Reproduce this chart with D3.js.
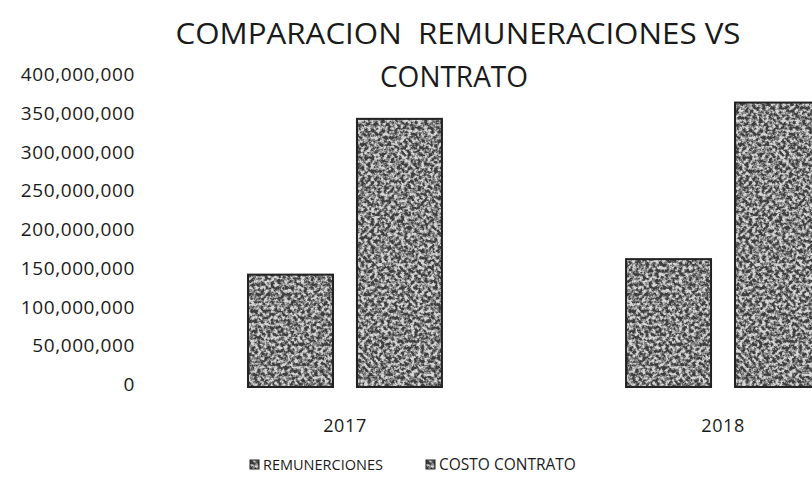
<!DOCTYPE html>
<html>
<head>
<meta charset="utf-8">
<script src="https://cdn.jsdelivr.net/npm/d3@7"></script>
<style>
  body { margin: 0; background: #fff; }
  svg { display: block; }
</style>
</head>
<body>
<svg id="chart" width="812" height="487"></svg>
<script>
const years = ['2017', '2018']
const seriesNames = ['REMUNERCIONES', 'COSTO CONTRATO']
const remuneraciones = [145000000, 165000000]
const costoContrato = [346000000, 367000000]
const yTicks = [0, 50000000, 100000000, 150000000, 200000000, 250000000, 300000000, 350000000, 400000000]
const titleLines = ['COMPARACION  REMUNERACIONES VS', 'CONTRATO']

const rows = years.map((y, i) => ({ year: y, values: [remuneraciones[i], costoContrato[i]] }))

const svg = d3.select('#chart')
const font = "'Open Sans', 'Noto Sans', sans-serif"
const ink = '#1a1a1a'

const dims = { left: 59, right: 1009, top: 77, bottom: 387 }

// grainy fill, like the photocopied bars
const defs = svg.append('defs')
const filt = defs.append('filter').attr('id', 'grain')
  .attr('x', 0).attr('y', 0).attr('width', 1).attr('height', 1)
  .attr('color-interpolation-filters', 'sRGB')
filt.append('feTurbulence')
  .attr('type', 'fractalNoise')
  .attr('baseFrequency', 0.3)
  .attr('numOctaves', 3)
  .attr('seed', 7)
  .attr('result', 'noise')
filt.append('feColorMatrix')
  .attr('in', 'noise')
  .attr('type', 'matrix')
  .attr('values', '3.3 0 0 0 -1.2  3.3 0 0 0 -1.2  3.3 0 0 0 -1.2  0 0 0 0 1')
  .attr('result', 'gray')
// soften: mix the speckle with the flat grey
filt.append('feComposite')
  .attr('in', 'gray').attr('in2', 'SourceGraphic')
  .attr('operator', 'arithmetic')
  .attr('k1', 0).attr('k2', 0.6).attr('k3', 0.4).attr('k4', 0)
  .attr('result', 'mix')
filt.append('feComposite')
  .attr('in', 'mix').attr('in2', 'SourceGraphic').attr('operator', 'in')

const x0 = d3.scaleBand()
  .domain(years)
  .range([dims.left, dims.right])
  .paddingInner(0.487)
  .paddingOuter(0.5)

const x1 = d3.scaleBand()
  .domain([0, 1])
  .range([0, x0.bandwidth()])
  .paddingInner(0.22)

const y = d3.scaleLinear()
  .domain([0, 400000000])
  .range([dims.bottom, dims.top])

// Title
svg.append('g').selectAll('text')
  .data(titleLines)
  .enter().append('text')
  .attr('x', (d, i) => i === 0 ? 458 : 454)
  .attr('y', (d, i) => 44 + i * 43)
  .attr('text-anchor', 'middle')
  .attr('font-family', font)
  .attr('font-size', 29)
  .attr('fill', ink)
  .attr('textLength', (d, i) => i === 0 ? 565 : 148)
  .attr('lengthAdjust', 'spacingAndGlyphs')
  .style('white-space', 'pre')
  .text(d => d)

// Y axis (labels only, no line)
const yAxis = d3.axisLeft(y)
  .tickValues(yTicks)
  .tickFormat(d3.format(','))
  .tickSize(0)
  .tickPadding(0)

const yg = svg.append('g')
  .attr('transform', 'translate(135, -3)')
  .call(yAxis)
yg.select('.domain').remove()
yg.selectAll('text')
  .attr('font-family', font)
  .attr('font-size', 19)
  .attr('letter-spacing', 0.6)
  .attr('fill', ink)
  .attr('dy', '0.35em')

// Bars
const groups = svg.append('g').selectAll('g')
  .data(rows)
  .enter().append('g')
  .attr('transform', d => `translate(${x0(d.year)}, 0)`)

groups.selectAll('rect.fill')
  .data(d => d.values)
  .enter().append('rect')
  .attr('class', 'fill')
  .attr('x', (d, i) => x1(i))
  .attr('y', d => y(d))
  .attr('width', x1.bandwidth())
  .attr('height', d => y(0) - y(d))
  .attr('fill', '#999')
  .attr('filter', 'url(#grain)')

groups.selectAll('rect.edge')
  .data(d => d.values)
  .enter().append('rect')
  .attr('class', 'edge')
  .attr('x', (d, i) => x1(i))
  .attr('y', d => y(d))
  .attr('width', x1.bandwidth())
  .attr('height', d => y(0) - y(d))
  .attr('fill', 'none')
  .attr('stroke', '#222')
  .attr('stroke-width', 2)

// X axis (labels only)
const xAxis = d3.axisBottom(x0).tickSize(0).tickPadding(0)
const xg = svg.append('g')
  .attr('transform', 'translate(0, 426)')
  .call(xAxis)
xg.select('.domain').remove()
xg.selectAll('text')
  .attr('font-family', font)
  .attr('font-size', 18)
  .attr('letter-spacing', 0.6)
  .attr('fill', ink)
  .attr('dy', '0.35em')

// Legend
const legendX = [250, 426]
const legend = svg.append('g').selectAll('g')
  .data(seriesNames)
  .enter().append('g')
  .attr('transform', (d, i) => `translate(${legendX[i]}, 465)`)

legend.append('rect')
  .attr('x', 0)
  .attr('y', -5)
  .attr('width', 9)
  .attr('height', 9)
  .attr('fill', '#999')
  .attr('filter', 'url(#grain)')

legend.append('rect')
  .attr('x', 0)
  .attr('y', -5)
  .attr('width', 9)
  .attr('height', 9)
  .attr('fill', 'none')
  .attr('stroke', '#222')
  .attr('stroke-width', 1)

legend.append('text')
  .attr('x', 13)
  .attr('y', 0)
  .attr('dy', '0.35em')
  .attr('font-family', font)
  .attr('font-size', (d, i) => i === 0 ? 14.5 : 15.5)
  .attr('fill', ink)
  .text(d => d)
</script>
</body>
</html>
